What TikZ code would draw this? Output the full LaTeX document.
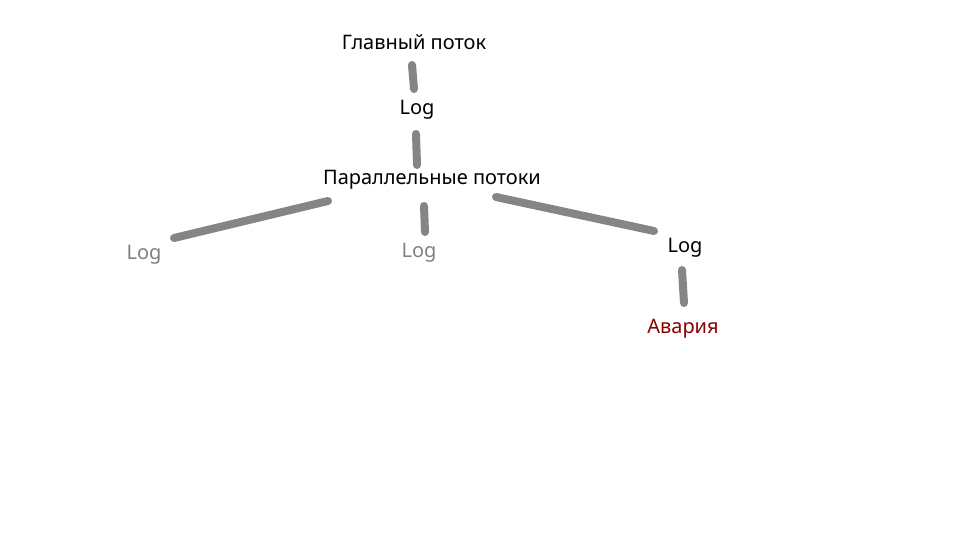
\documentclass[tikz,border=0pt]{standalone}
\usepackage{fontspec}
\setmainfont{Noto Sans}
\definecolor{crash}{HTML}{8B0000}
\definecolor{faded}{HTML}{808080}
\definecolor{edge}{HTML}{858585}
\begin{document}
\begin{tikzpicture}[x=1pt,y=-1pt,
  lbl/.style={font=\fontsize{20}{24}\selectfont, inner sep=0pt},
  conn/.style={draw=edge, line width=8pt, line cap=round}]
\useasboundingbox (0,0) rectangle (960,540);
\node[lbl] (main) at (414,42) {Главный поток};
\node[lbl] (log1) at (417,110) {Log};
\node[lbl] (par) at (432,180) {Параллельные потоки};
\node[lbl, text=faded] (logL) at (144,255) {Log};
\node[lbl, text=faded] (logM) at (419,253) {Log};
\node[lbl] (logR) at (685,248) {Log};
\node[lbl, text=crash] (crash) at (683,329) {Авария};
\coordinate (a1) at (412,65); \coordinate (a2) at (414,89);
\coordinate (b1) at (416,134); \coordinate (b2) at (417,165);
\coordinate (c1) at (328,201); \coordinate (c2) at (174,238);
\coordinate (d1) at (424,206); \coordinate (d2) at (425,232);
\coordinate (e1) at (496,197); \coordinate (e2) at (654,231);
\coordinate (f1) at (682,270); \coordinate (f2) at (684,303);
\draw[conn] (a1) -- (a2);
\draw[conn] (b1) -- (b2);
\draw[conn] (c1) -- (c2);
\draw[conn] (d1) -- (d2);
\draw[conn] (e1) -- (e2);
\draw[conn] (f1) -- (f2);
\end{tikzpicture}
\end{document}
